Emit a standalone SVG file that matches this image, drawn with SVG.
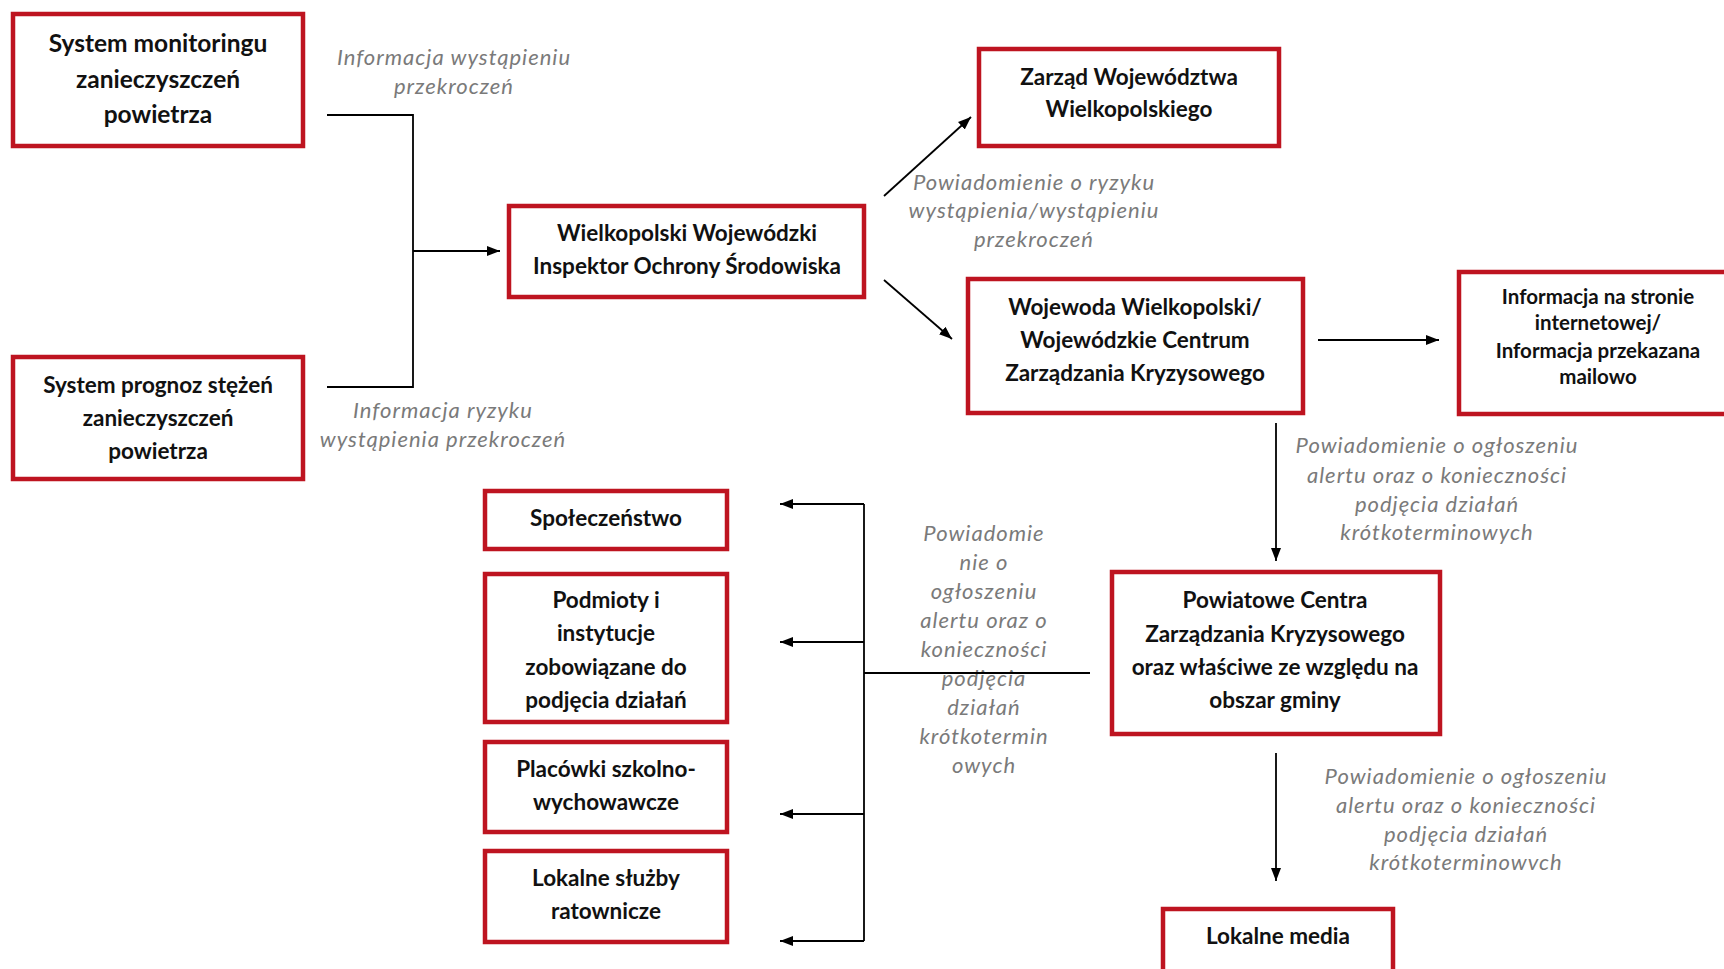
<svg xmlns="http://www.w3.org/2000/svg" width="1724" height="969" viewBox="0 0 1724 969">
<defs>
<style>
.box{fill:#fff;stroke:#BE1420;stroke-width:4.5}
.t{font-family:Lato,"Liberation Sans",sans-serif;font-weight:bold;font-size:22.5px;fill:#111;text-anchor:middle}
.l{font-family:Lato,"Liberation Sans",sans-serif;font-style:italic;font-size:22px;letter-spacing:1px;fill:#7a7a7a;text-anchor:middle}
.c{fill:none;stroke:#000;stroke-width:1.8}
</style>
<marker id="ah" markerUnits="userSpaceOnUse" markerWidth="14" markerHeight="12" refX="13" refY="6" orient="auto">
<path d="M0,1 L13,6 L0,11 Z" fill="#000"/>
</marker>
</defs>
<rect width="1724" height="969" fill="#fff"/>

<g id="labels">
<text class="l" x="454" y="65">Informacja wystąpieniu</text>
<text class="l" x="454" y="94">przekroczeń</text>
<text class="l" x="443" y="418">Informacja ryzyku</text>
<text class="l" x="443" y="447">wystąpienia przekroczeń</text>
<text class="l" x="1034" y="190">Powiadomienie o ryzyku</text>
<text class="l" x="1034" y="218">wystąpienia/wystąpieniu</text>
<text class="l" x="1034" y="247">przekroczeń</text>
<text class="l" x="1437" y="453">Powiadomienie o ogłoszeniu</text>
<text class="l" x="1437" y="483">alertu oraz o konieczności</text>
<text class="l" x="1437" y="512">podjęcia działań</text>
<text class="l" x="1437" y="540">krótkoterminowych</text>
<text class="l" x="984" y="541">Powiadomie</text>
<text class="l" x="984" y="570">nie o</text>
<text class="l" x="984" y="599">ogłoszeniu</text>
<text class="l" x="984" y="628">alertu oraz o</text>
<text class="l" x="984" y="657">konieczności</text>
<text class="l" x="984" y="686">podjęcia</text>
<text class="l" x="984" y="715">działań</text>
<text class="l" x="984" y="744">krótkotermin</text>
<text class="l" x="984" y="773">owych</text>
<text class="l" x="1466" y="784">Powiadomienie o ogłoszeniu</text>
<text class="l" x="1466" y="813">alertu oraz o konieczności</text>
<text class="l" x="1466" y="842">podjęcia działań</text>
<text class="l" x="1466" y="870">krótkoterminowvch</text>
</g>

<g id="connectors">
<path class="c" d="M327,115 H413 V387 H327"/>
<path class="c" d="M413,251 H500" marker-end="url(#ah)"/>
<path class="c" d="M884,196 L971,117" marker-end="url(#ah)"/>
<path class="c" d="M884,280 L952,339" marker-end="url(#ah)"/>
<path class="c" d="M1318,340 H1439" marker-end="url(#ah)"/>
<path class="c" d="M1276,423 V561" marker-end="url(#ah)"/>
<path class="c" d="M1276,753 V881" marker-end="url(#ah)"/>
<path class="c" d="M1090,673 H864"/>
<path class="c" d="M864,504 V941"/>
<path class="c" d="M864,504 H780" marker-end="url(#ah)"/>
<path class="c" d="M864,642 H780" marker-end="url(#ah)"/>
<path class="c" d="M864,814 H780" marker-end="url(#ah)"/>
<path class="c" d="M864,941 H780" marker-end="url(#ah)"/>
</g>

<g id="n1"><rect class="box" x="13" y="14" width="290" height="132"/>
<text class="t" x="158" y="52" style="font-size:24.5px">System monitoringu</text>
<text class="t" x="158" y="88" style="font-size:24.5px">zanieczyszczeń</text>
<text class="t" x="158" y="123" style="font-size:24.5px">powietrza</text></g>

<g id="n2"><rect class="box" x="13" y="357" width="290" height="122"/>
<text class="t" x="158" y="393">System prognoz stężeń</text>
<text class="t" x="158" y="426">zanieczyszczeń</text>
<text class="t" x="158" y="459">powietrza</text></g>

<g id="n3"><rect class="box" x="509" y="206" width="355" height="91"/>
<text class="t" x="687" y="241">Wielkopolski Wojewódzki</text>
<text class="t" x="687" y="274">Inspektor Ochrony Środowiska</text></g>

<g id="n4"><rect class="box" x="979" y="49" width="300" height="97"/>
<text class="t" x="1129" y="85">Zarząd Województwa</text>
<text class="t" x="1129" y="117">Wielkopolskiego</text></g>

<g id="n5"><rect class="box" x="968" y="279" width="335" height="134"/>
<text class="t" x="1135" y="315">Wojewoda Wielkopolski/</text>
<text class="t" x="1135" y="348">Wojewódzkie Centrum</text>
<text class="t" x="1135" y="381">Zarządzania Kryzysowego</text></g>

<g id="n6"><rect class="box" x="1459" y="272" width="275" height="142"/>
<text class="t" x="1598" y="304" style="font-size:20.5px">Informacja na stronie</text>
<text class="t" x="1598" y="330" style="font-size:20.5px">internetowej/</text>
<text class="t" x="1598" y="358" style="font-size:20.5px">Informacja przekazana</text>
<text class="t" x="1598" y="384" style="font-size:20.5px">mailowo</text></g>

<g id="n7"><rect class="box" x="485" y="491" width="242" height="58"/>
<text class="t" x="606" y="526">Społeczeństwo</text></g>

<g id="n8"><rect class="box" x="485" y="574" width="242" height="148"/>
<text class="t" x="606" y="608">Podmioty i</text>
<text class="t" x="606" y="641">instytucje</text>
<text class="t" x="606" y="675">zobowiązane do</text>
<text class="t" x="606" y="708">podjęcia działań</text></g>

<g id="n9"><rect class="box" x="485" y="742" width="242" height="90"/>
<text class="t" x="606" y="777">Placówki szkolno-</text>
<text class="t" x="606" y="810">wychowawcze</text></g>

<g id="n10"><rect class="box" x="485" y="851" width="242" height="91"/>
<text class="t" x="606" y="886">Lokalne służby</text>
<text class="t" x="606" y="919">ratownicze</text></g>

<g id="n11"><rect class="box" x="1112" y="572" width="328" height="162"/>
<text class="t" x="1275" y="608">Powiatowe Centra</text>
<text class="t" x="1275" y="642">Zarządzania Kryzysowego</text>
<text class="t" x="1275" y="675">oraz właściwe ze względu na</text>
<text class="t" x="1275" y="708">obszar gminy</text></g>

<g id="n12"><rect class="box" x="1163" y="909" width="230" height="80"/>
<text class="t" x="1278" y="944">Lokalne media</text></g>
</svg>
